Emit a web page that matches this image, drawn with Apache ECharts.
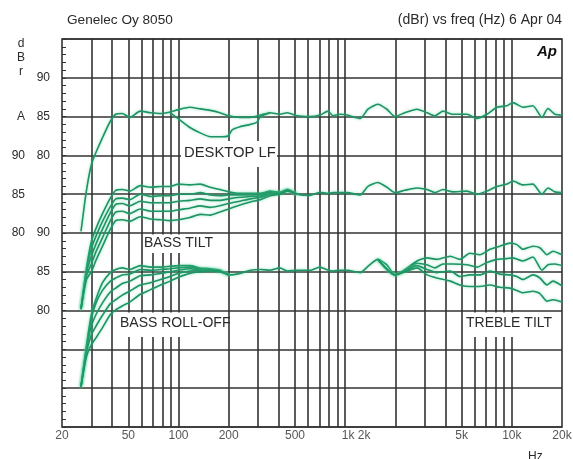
<!DOCTYPE html>
<html>
<head>
<meta charset="utf-8">
<script src="https://cdn.jsdelivr.net/npm/echarts@6/dist/echarts.min.js"></script>
<style>
	html, body { margin: 0; padding: 0; background: #fff; }
	#chart { width: 573px; height: 459px; }
</style>
</head>
<body>
<div id="chart"></div>
<script>
// 全频段扫描的频率点 (Hz)
const FREQ = [26, 28, 30, 32, 35, 39, 42, 46, 51, 59, 68, 78, 89, 100, 117, 135, 155, 177, 200, 234,
	270, 310, 355, 405, 450, 515, 615, 705, 790, 845, 930, 1030, 1230, 1370, 1570, 1780, 1990, 2280, 2700, 3100,
	3460, 3860, 4430, 5380, 6180, 7090, 8140, 9340, 10150, 11660, 13380, 15150, 16470, 18140, 20000];

// DESKTOP LF 组 (dBrA, 上方刻度)
const DESK_FLAT = [70.2, 75.4, 78.8, 80.4, 82.3, 84.4, 85.3, 85.4, 84.9, 85.7, 85.5, 85.4, 85.6, 85.9, 86.2, 86.0, 85.8, 85.5, 85.1, 84.9,
	84.9, 85.2, 85.5, 85.3, 85.5, 85.1, 85.0, 85.2, 85.7, 85.1, 85.3, 85.2, 84.75, 85.95, 86.6, 85.95, 85.0, 85.5, 85.95, 85.5,
	85.1, 85.7, 85.3, 85.3, 84.75, 85.3, 86.2, 86.4, 86.8, 86.2, 86.4, 84.9, 86.05, 85.3, 85.2];
const DIP_FREQ = [89, 100, 117, 135, 155, 177, 198, 210, 234, 270, 296, 310, 355];
const DESK_DIP = [85.5, 84.7, 83.6, 82.9, 82.4, 82.4, 82.5, 83.3, 83.7, 84.0, 84.3, 85.0, 85.5];

// BASS TILT 组 (中间刻度)
const TILT_FLAT = [70.2, 75.4, 78.9, 80.6, 82.5, 84.5, 85.5, 85.6, 85.4, 86.1, 85.9, 86.0, 86.0, 86.3, 86.2, 86.3, 85.9, 85.6, 85.3, 85.1,
	85.1, 85.1, 85.4, 85.25, 85.6, 85.0, 84.85, 85.25, 85.1, 85.2, 85.2, 85.2, 84.9, 86.0, 86.5, 85.9, 85.2, 85.5, 85.8, 85.6,
	85.2, 85.6, 85.3, 85.4, 85.0, 85.4, 86.0, 86.3, 86.7, 86.2, 86.3, 85.0, 85.8, 85.3, 85.2];
const TILT_FREQ = [26, 28, 30, 32, 35, 39, 42, 46, 51, 59, 68, 78, 89, 100, 117, 135, 155, 177, 200, 234, 270, 310, 355, 405, 450, 515];
const TILT_1 = [70.2, 75.1, 78.0, 79.6, 81.5, 83.4, 84.4, 84.5, 84.3, 85.0, 84.7, 84.8, 84.8, 85.0, 85.0, 85.2, 84.9, 84.8, 84.9, 84.9, 84.9, 85.0, 85.3, 85.2, 85.6, 85.0];
const TILT_2 = [70.2, 74.8, 77.0, 78.6, 80.5, 82.6, 83.7, 83.8, 83.5, 84.1, 83.9, 83.9, 83.9, 84.1, 84.2, 84.4, 84.2, 84.2, 84.4, 84.6, 84.7, 84.8, 85.2, 85.2, 85.5, 85.0];
const TILT_3 = [70.2, 74.4, 76.0, 77.6, 79.4, 81.6, 82.7, 82.8, 82.5, 83.1, 82.8, 82.8, 82.8, 83.0, 83.2, 83.5, 83.3, 83.5, 83.8, 84.1, 84.4, 84.6, 85.0, 85.1, 85.5, 85.0];
const TILT_4 = [70.2, 74.0, 75.0, 76.5, 78.3, 80.5, 81.6, 81.7, 81.5, 82.1, 81.8, 81.7, 81.6, 81.7, 82.0, 82.4, 82.3, 82.7, 83.1, 83.6, 84.0, 84.3, 84.8, 85.0, 85.4, 85.0];

// BASS ROLL-OFF / TREBLE TILT 组 (下方刻度)
const ROLL_FLAT = [70.2, 75.4, 79.5, 81.5, 83.6, 84.9, 85.3, 85.5, 85.3, 85.8, 85.6, 85.6, 85.7, 85.8, 85.8, 85.5, 85.4, 85.2, 84.6, 84.8,
	85.2, 85.3, 85.2, 85.5, 85.1, 85.2, 85.2, 85.6, 85.2, 85.1, 85.2, 85.2, 84.9, 85.7, 86.6, 85.9, 84.6, 85.05, 86.1, 85.9,
	85.5, 86.0, 86.0, 85.9, 85.6, 86.2, 86.6, 86.7, 86.8, 86.4, 86.9, 85.2, 85.9, 86.0, 85.8];
const ROLL_FREQ = [26, 28, 30, 32, 35, 39, 42, 46, 51, 59, 68, 78, 89, 100, 117, 135, 155, 177, 200];
const ROLL_1 = [70.2, 75.2, 79.0, 81.0, 82.6, 83.8, 84.2, 84.6, 84.7, 85.3, 85.2, 85.3, 85.4, 85.5, 85.6, 85.4, 85.3, 85.2, 84.6];
const ROLL_2 = [70.2, 74.9, 78.0, 79.5, 81.0, 82.4, 82.9, 83.5, 83.8, 84.5, 84.6, 84.8, 85.0, 85.2, 85.4, 85.3, 85.3, 85.1, 84.6];
const ROLL_3 = [70.2, 74.5, 76.9, 78.0, 79.4, 80.9, 81.4, 82.0, 82.5, 83.3, 83.6, 84.0, 84.4, 84.8, 85.1, 85.2, 85.2, 85.1, 84.6];
const ROLL_4 = [70.2, 74.0, 75.6, 76.5, 77.8, 79.5, 80.1, 80.6, 81.1, 82.1, 82.7, 83.3, 83.8, 84.3, 84.8, 85.0, 85.1, 85.0, 84.6];
const TREB_FREQ = [1570, 1990, 2700, 3100, 3550, 4270, 4880, 5600, 6430, 7390, 8480, 9740, 10730, 11650, 13380, 14740, 16240, 17640, 20000];
const TREB_UP = [86.6, 84.6, 86.4, 86.8, 86.6, 87.0, 86.6, 87.4, 87.2, 87.9, 88.3, 88.7, 88.5, 87.9, 88.3, 88.1, 87.2, 87.65, 87.2];
const TREB_DN2 = [86.6, 84.6, 85.8, 85.3, 84.9, 85.1, 84.4, 84.6, 84.6, 85.1, 84.7, 84.6, 84.4, 84.0, 84.6, 84.2, 83.3, 83.8, 83.2];
const TREB_DN4 = [86.6, 84.6, 85.5, 84.6, 84.2, 83.8, 83.3, 83.1, 83.1, 83.3, 83.0, 82.9, 82.6, 82.3, 82.5, 82.2, 81.2, 81.4, 81.1];

// 三组曲线在图上的偏移 (dB)
const OFFSET_DESK = -45;
const OFFSET_TILT = -55;
const OFFSET_ROLL = -65;

// 刻度文字
const INNER_LABELS = { 45: '90', 40: '85', 35: '80', 25: '90', 20: '85', 15: '80' };
const OUTER_LABELS = { 40: 'A', 35: '90', 30: '85', 25: '80' };
const X_TICKS = [20, 50, 100, 200, 500, 1000, 5000, 10000, 20000];
const X_TICK_TEXT = ['20', '50', '100', '200', '500', '1k 2k', '5k', '10k', '20k'];
const GRID_FREQ = [30, 40, 50, 60, 70, 80, 90, 100, 200, 300, 400, 500, 600, 700, 800, 900, 1000,
	2000, 3000, 4000, 5000, 6000, 7000, 8000, 9000, 10000];

const FONT = '"Liberation Sans", Arial, Helvetica, sans-serif';
const INK = '#2a2a2a';
const GRID_LINE = '#333';
const CURVE = '#1e9464';

const chart = echarts.init(document.getElementById('chart'));

function curve(freqs, values, offset) {
	return {
		type: 'line',
		data: freqs.map((f, i) => [f, values[i] + offset]),
		showSymbol: false,
		smooth: 0.2,
		z: 3,
		silent: true,
		lineStyle: {
			color: CURVE,
			width: 1.6,
			shadowColor: 'rgba(70, 205, 145, 0.6)',
			shadowBlur: 3,
		},
	};
}

function labelBox(x, y, w, h, text, tx, ty, size) {
	return [
		{ type: 'rect', z: 2, shape: { x, y, width: w, height: h }, style: { fill: '#fff' } },
		{
			type: 'text', z: 2, x: tx, y: ty,
			style: { text, fill: INK, font: `${size || 14}px ${FONT}`, verticalAlign: 'middle' },
		},
	];
}

chart.setOption({
	animation: false,
	textStyle: { fontFamily: FONT },
	grid: { left: 62, right: 11, top: 39, bottom: 32, show: true, borderColor: GRID_LINE, borderWidth: 1.6 },
	xAxis: {
		type: 'log', logBase: 10, min: 20, max: 20000,
		axisLine: { show: false }, axisTick: { show: false },
		axisLabel: { show: false }, splitLine: { show: false },
	},
	yAxis: [
		{
			type: 'value', min: 0, max: 50, interval: 5, position: 'left',
			axisLine: { show: false },
			axisTick: { show: true, inside: true, length: 4, lineStyle: { color: GRID_LINE } },
			minorTick: { show: true, splitNumber: 5, length: 4, lineStyle: { color: '#333' } },
			splitLine: { show: true, lineStyle: { color: GRID_LINE, width: 1.6 } },
			axisLabel: {
				margin: 12, color: INK, fontSize: 12,
				formatter: v => INNER_LABELS[v] || '',
			},
		},
		{
			type: 'value', min: 0, max: 50, interval: 5, position: 'left', offset: 25,
			axisLine: { show: false }, axisTick: { show: false }, splitLine: { show: false },
			axisLabel: {
				margin: 12, color: INK, fontSize: 12,
				formatter: v => OUTER_LABELS[v] || '',
			},
		},
	],
	series: [
		{
			// 竖向网格线 (对数刻度)
			type: 'line', data: [], z: 1, silent: true,
			markLine: {
				z: 1, silent: true, symbol: ['none', 'none'], label: { show: false },
				lineStyle: { type: 'solid', color: GRID_LINE, width: 1.6 },
				data: GRID_FREQ.map(f => ({ xAxis: f })),
			},
		},
		{
			// 频率刻度文字
			type: 'scatter', symbolSize: 0, clip: false, silent: true, z: 3,
			data: X_TICKS.map((f, i) => ({
				value: [f, 0],
				label: X_TICK_TEXT[i].includes(' ') ? { offset: [11, 0] } : undefined,
			})),
			label: {
				show: true, position: 'bottom', distance: 3, color: INK, fontSize: 12,
				formatter: p => X_TICK_TEXT[p.dataIndex],
			},
		},
		curve(FREQ, DESK_FLAT, OFFSET_DESK),
		curve(DIP_FREQ, DESK_DIP, OFFSET_DESK),
		curve(FREQ, TILT_FLAT, OFFSET_TILT),
		curve(TILT_FREQ, TILT_1, OFFSET_TILT),
		curve(TILT_FREQ, TILT_2, OFFSET_TILT),
		curve(TILT_FREQ, TILT_3, OFFSET_TILT),
		curve(TILT_FREQ, TILT_4, OFFSET_TILT),
		curve(FREQ, ROLL_FLAT, OFFSET_ROLL),
		curve(ROLL_FREQ, ROLL_1, OFFSET_ROLL),
		curve(ROLL_FREQ, ROLL_2, OFFSET_ROLL),
		curve(ROLL_FREQ, ROLL_3, OFFSET_ROLL),
		curve(ROLL_FREQ, ROLL_4, OFFSET_ROLL),
		curve(TREB_FREQ, TREB_UP, OFFSET_ROLL),
		curve(TREB_FREQ, TREB_DN2, OFFSET_ROLL),
		curve(TREB_FREQ, TREB_DN4, OFFSET_ROLL),
	],
	graphic: [
		{ type: 'text', x: 67, y: 20, style: { text: 'Genelec Oy 8050', fill: INK, font: `13.6px ${FONT}`, verticalAlign: 'middle' } },
		{ type: 'text', x: 562, y: 20, style: { text: '(dBr) vs freq (Hz) 6 Apr 04', fill: INK, font: `14px ${FONT}`, align: 'right', verticalAlign: 'middle' } },
		{ type: 'text', x: 557, y: 52, z: 4, style: { text: 'Ap', fill: '#111', font: `bold italic 15px ${FONT}`, align: 'right', verticalAlign: 'middle' } },
		{ type: 'text', x: 21, y: 44, style: { text: 'd', fill: INK, font: `12px ${FONT}`, align: 'center', verticalAlign: 'middle' } },
		{ type: 'text', x: 21, y: 58, style: { text: 'B', fill: INK, font: `12px ${FONT}`, align: 'center', verticalAlign: 'middle' } },
		{ type: 'text', x: 21, y: 72, style: { text: 'r', fill: INK, font: `12px ${FONT}`, align: 'center', verticalAlign: 'middle' } },
		{ type: 'text', x: 528, y: 451, style: { text: 'Hz', fill: INK, font: `12px ${FONT}` } },
		...labelBox(181, 141, 96, 26, 'DESKTOP LF', 184, 153, 14.8),
		...labelBox(144, 234.5, 70, 18.5, 'BASS TILT', 144, 243),
		...labelBox(119, 312.5, 108, 24.5, 'BASS ROLL-OFF', 120, 323),
		...labelBox(464, 312.5, 90, 24.5, 'TREBLE TILT', 466, 323),
	],
});
</script>
</body>
</html>
